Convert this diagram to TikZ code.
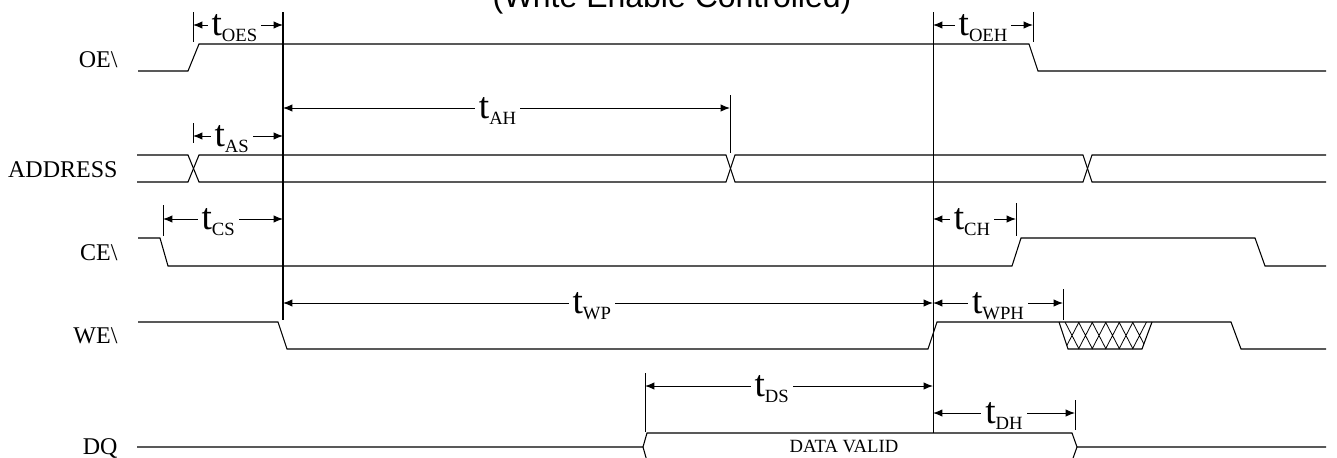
\documentclass[tikz,border=0pt]{standalone}
\usepackage{fontspec}
\setmainfont{Liberation Serif}
\newfontfamily\titlefont{Liberation Sans}
\usepackage{tikz}
\usetikzlibrary{positioning,arrows.meta}

\newcommand{\tsub}[1]{{\fontsize{28}{28}\selectfont t}\raisebox{-4pt}{\fontsize{14}{14}\selectfont #1}}

\begin{document}
\begin{tikzpicture}[x=0.75pt, y=-0.75pt, line width=0.8pt, >={Latex[length=7pt,width=5.5pt]},
	sig/.style={line width=0.8pt},
	dim/.style={<->, line width=0.75pt},
	ext/.style={line width=0.75pt},
	siglbl/.style={anchor=base east, inner sep=0pt, font=\fontsize{18}{18}\selectfont},
	tlbl/.style={anchor=base, yshift=-8pt, fill=white, inner xsep=3pt, inner ysep=1pt}]
		\useasboundingbox (0,0) rectangle (1337,457);
		\clip (0,0) rectangle (1337,457);
		% Nodes
		\node[anchor=base, font=\titlefont\fontsize{24}{24}\selectfont] (title) at (672,7) {(Write Enable Controlled)};
		\node[siglbl] (oe)   at (118,67)  {OE\textbackslash};
		\node[siglbl] (addr) at (118,177) {ADDRESS};
		\node[siglbl] (ce)   at (118,260) {CE\textbackslash};
		\node[siglbl] (we)   at (118,343) {WE\textbackslash};
		\node[siglbl] (dq)   at (118,454) {DQ};
		\node[anchor=base, font=\fontsize{14}{14}\selectfont] (valid) at (844,452) {DATA VALID};
		% Waveforms
		\draw[sig] (138,71) -- (188,71) -- (199,44) -- (1029,44) -- (1038,71) -- (1326,71);
		\draw[sig] (137,155) -- (188,155) -- (199,182) -- (726,182) -- (735,155) -- (1083,155) -- (1092,182) -- (1326,182);
		\draw[sig] (137,182) -- (188,182) -- (199,155) -- (726,155) -- (735,182) -- (1083,182) -- (1092,155) -- (1326,155);
		\draw[sig] (138,238) -- (160,238) -- (168,266) -- (1012,266) -- (1021,238) -- (1255,238) -- (1265,266) -- (1326,266);
		\draw[sig] (138,322) -- (278,322) -- (287,349) -- (928,349) -- (937,322) -- (1231,322) -- (1241,349) -- (1326,349);
		\draw[sig] (1059,322) -- (1068,349) -- (1142,349) -- (1152,322);
		\begin{scope}
			\clip (1059,322) -- (1068,349) -- (1142,349) -- (1152,322) -- cycle;
			\foreach \k in {0,...,5}
				\draw[line width=0.6pt] (1065+13.5*\k,322) -- (1079+13.5*\k,349) (1079+13.5*\k,322) -- (1065+13.5*\k,349);
		\end{scope}
		\draw[sig] (137,447) -- (643,447) -- (647,433) -- (1072,433) -- (1077,447) -- (1326,447);
		\draw[sig] (643,447) -- (647,461) -- (1072,461) -- (1077,447);
		% Reference lines
		\coordinate (m1t) at (283,12);  \coordinate (m1b) at (283,320);
		\coordinate (m2t) at (933,12);  \coordinate (m2b) at (933,433);
		\draw[line width=1.1pt] (m1t) -- (m1b);
		\draw[ext] (m2t) -- (m2b);
		\draw[ext] (193,12) -- (193,42);
		\draw[ext] (1033,12) -- (1033,42);
		\draw[ext] (193,123) -- (193,143);
		\draw[ext] (730,95) -- (730,153);
		\draw[ext] (163,205) -- (163,236);
		\draw[ext] (1016,203) -- (1016,236);
		\draw[ext] (1063,289) -- (1063,320);
		\draw[ext] (645,373) -- (645,432);
		\draw[ext] (1075,400) -- (1075,430);
		%Arrows
		\draw[dim] (193,25) -- (283,25) node[tlbl, pos=0.46] (toes) {\tsub{OES}};
		\draw[dim] (933,25) -- (1033,25) node[tlbl, pos=0.5] (toeh) {\tsub{OEH}};
		\draw[dim] (193,136) -- (283,136) node[tlbl, pos=0.43] (tas) {\tsub{AS}};
		\draw[dim] (283,108) -- (730,108) node[tlbl, pos=0.48] (tah) {\tsub{AH}};
		\draw[dim] (163,219) -- (283,219) node[tlbl, pos=0.46] (tcs) {\tsub{CS}};
		\draw[dim] (933,219) -- (1016,219) node[tlbl, pos=0.47] (tch) {\tsub{CH}};
		\draw[dim] (283,303) -- (933,303) node[tlbl, pos=0.475] (twp) {\tsub{WP}};
		\draw[dim] (933,303) -- (1063,303) node[tlbl, pos=0.5] (twph) {\tsub{WPH}};
		\draw[dim] (645,386) -- (933,386) node[tlbl, pos=0.44] (tds) {\tsub{DS}};
		\draw[dim] (933,413) -- (1075,413) node[tlbl, pos=0.5] (tdh) {\tsub{DH}};
\end{tikzpicture}
\end{document}
